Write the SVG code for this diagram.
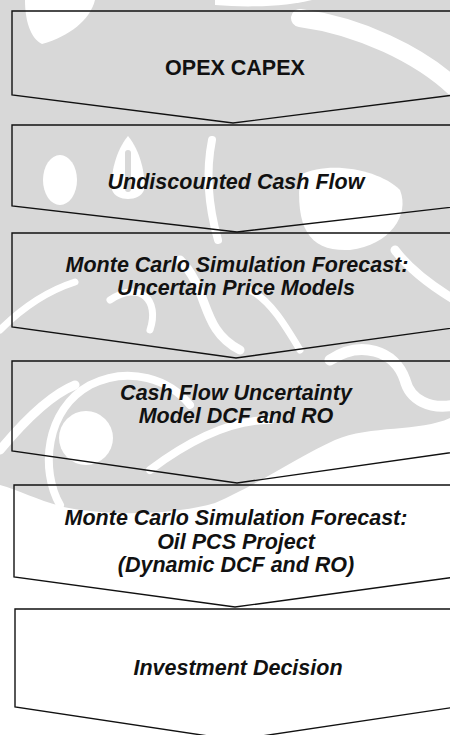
<svg xmlns="http://www.w3.org/2000/svg" width="450" height="735" viewBox="0 0 450 735">
<style>
.wm{fill:#d8d8d8}
.wc{fill:#fff}
.ws{fill:none;stroke:#fff;stroke-linecap:round}
.box{fill:none;stroke:#111;stroke-width:1.4;stroke-linejoin:miter}
.t{font-family:"Liberation Sans",Arial,sans-serif;font-size:21.5px;font-weight:bold;font-style:italic;fill:#111;text-anchor:middle}
.tn{font-style:normal}
</style>
<rect width="450" height="735" fill="#fff"/>
<g id="watermark">
<path class="wm" d="M0,0 H450 V418 C420,432 370,425 335,440 C300,456 262,482 215,503 C170,516 100,516 60,506 C38,500 18,490 0,485 Z"/>
<path class="wc" d="M25,0 H95 C90,20 70,36 42,44 C30,38 25,20 25,0 Z"/>
<path class="wc" d="M215,0 H312 C290,6 250,8 215,5 Z"/>
<path class="ws" stroke-width="18" d="M300,18 C360,26 420,55 455,88"/>
<ellipse class="wc" cx="60" cy="180" rx="17" ry="25"/>
<path class="wc" d="M128,136 C140,150 146,175 144,190 C140,202 116,202 112,190 C110,175 116,150 128,136 Z"/>
<rect class="wm" x="125" y="150" width="6" height="42" rx="3"/>
<path class="ws" stroke-width="8" d="M212,140 C206,170 208,205 218,240"/>
<path class="wc" d="M300,175 C330,160 380,170 400,190 C410,215 390,245 350,250 C310,252 295,230 300,175 Z"/>
<path class="ws" stroke-width="9" d="M395,250 C410,270 430,285 455,300"/>
<path class="ws" stroke-width="7" d="M0,330 C25,305 50,290 75,282"/>
<path class="ws" stroke-width="7" d="M110,300 C140,280 160,300 150,330"/>
<path class="ws" stroke-width="9" d="M180,260 C210,290 200,330 240,350"/>
<path class="ws" stroke-width="7" d="M250,290 C270,300 285,325 300,350"/>
<path class="ws" stroke-width="9" d="M0,450 C25,420 50,395 75,385"/>
<circle class="wc" cx="86" cy="438" r="27"/>
<path class="ws" stroke-width="8" d="M60,505 C40,470 45,410 90,385 C130,365 170,380 190,405"/>
<path class="ws" stroke-width="8" d="M150,470 C190,440 230,420 270,420"/>
<path class="ws" stroke-width="11" d="M330,360 C360,340 395,350 405,380 C410,400 430,410 455,405"/>
</g>
<g id="connectors"></g>
<g id="n1"><path class="box" d="M12,11 H454 V95 L233,123 L12,95 Z"/><text class="t tn" x="235" y="75">OPEX CAPEX</text></g>
<g id="n2"><path class="box" d="M12,125 H462 V206 L237,232 L12,206 Z"/><text class="t" x="236" y="189">Undiscounted Cash Flow</text></g>
<g id="n3"><path class="box" d="M12,233 H460 V327 L236,358 L12,327 Z"/><text class="t" x="237" y="272">Monte Carlo Simulation Forecast:</text><text class="t" x="236" y="295">Uncertain Price Models</text></g>
<g id="n4"><path class="box" d="M12,361 H462 V451 L237,483 L12,451 Z"/><text class="t" x="236" y="400">Cash Flow Uncertainty</text><text class="t" x="236" y="423">Model DCF and RO</text></g>
<g id="n5"><path class="box" d="M14,485 H456 V577 L235,607 L14,577 Z"/><text class="t" x="236" y="525">Monte Carlo Simulation Forecast:</text><text class="t" x="236" y="549">Oil PCS Project</text><text class="t" x="236" y="572">(Dynamic DCF and RO)</text></g>
<g id="n6"><path class="box" d="M15,609 H456 V707 L235,740 L15,707 Z"/><text class="t" x="238" y="675">Investment Decision</text></g>
</svg>
